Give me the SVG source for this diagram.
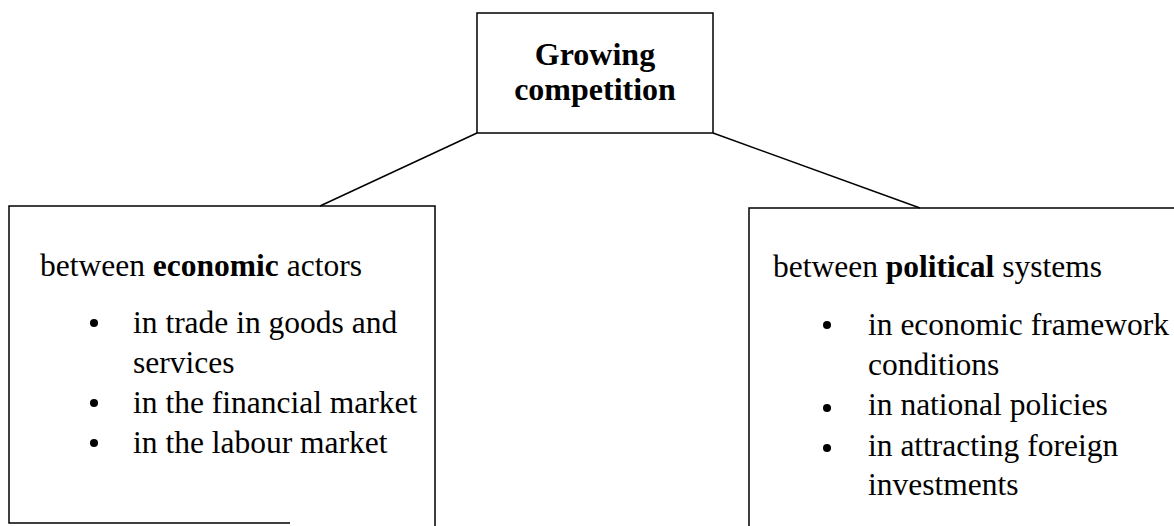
<svg xmlns="http://www.w3.org/2000/svg" width="1174" height="526" viewBox="0 0 1174 526">
<style>
.box{fill:none;stroke:#000;stroke-width:1.5}
.ln{fill:none;stroke:#000;stroke-width:1.5}
.t{font-family:"Liberation Serif","Times New Roman",serif;font-size:31.5px;fill:#000}
.h{font-family:"Liberation Serif","Times New Roman",serif;font-size:32px;font-weight:bold;fill:#000}
.b{font-weight:bold}
.dot{fill:#000}
</style>
<rect width="1174" height="526" fill="#fff"/>
<g id="connectors">
<line class="ln" x1="477" y1="133" x2="320" y2="206"/>
<line class="ln" x1="713" y1="133" x2="920" y2="208"/>
</g>
<g id="top">
<rect class="box" x="477" y="13" width="236" height="120"/>
<text class="h" x="595" y="65" text-anchor="middle">Growing</text>
<text class="h" x="595" y="100" text-anchor="middle">competition</text>
</g>
<g id="left">
<path class="box" d="M290,523 H9 V206 H435 V526"/>
<text class="t" x="40" y="276">between <tspan class="b">economic</tspan> actors</text>
<circle class="dot" cx="94" cy="323" r="4"/>
<circle class="dot" cx="94" cy="403" r="4"/>
<circle class="dot" cx="94" cy="443" r="4"/>
<text class="t" x="133" y="333">in trade in goods and</text>
<text class="t" x="133" y="373">services</text>
<text class="t" x="133" y="413">in the financial market</text>
<text class="t" x="133" y="453">in the labour market</text>
</g>
<g id="right">
<path class="box" d="M749,526 V208 H1180"/>
<text class="t" x="773" y="277">between <tspan class="b">political</tspan> systems</text>
<circle class="dot" cx="827" cy="325" r="4"/>
<circle class="dot" cx="827" cy="408" r="4"/>
<circle class="dot" cx="827" cy="448" r="4"/>
<text class="t" x="868" y="335">in economic framework</text>
<text class="t" x="868" y="375">conditions</text>
<text class="t" x="868" y="415">in national policies</text>
<text class="t" x="868" y="456">in attracting foreign</text>
<text class="t" x="868" y="495">investments</text>
</g>
</svg>
